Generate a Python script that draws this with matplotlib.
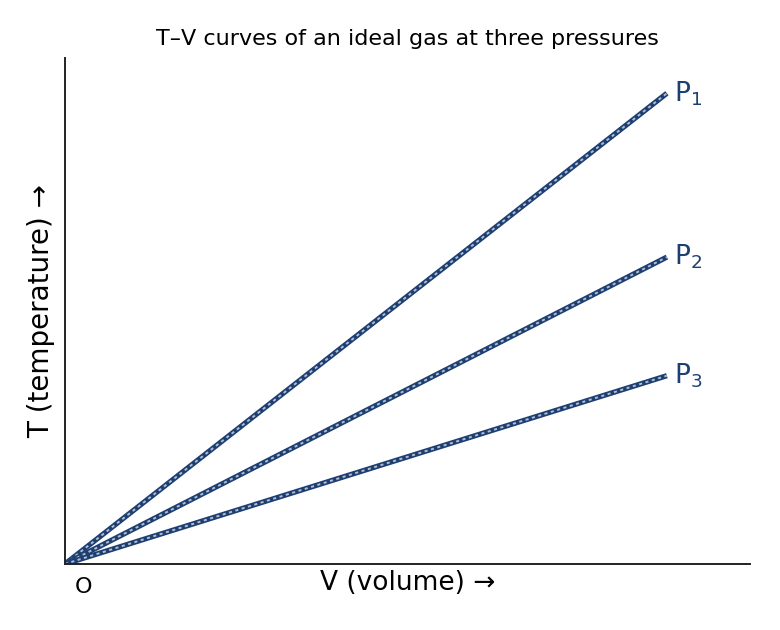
import matplotlib
matplotlib.use("Agg")
import matplotlib.pyplot as plt
import numpy as np

# data: isobars T = k V, end points at V = 1
labels = ["P$_1$", "P$_2$", "P$_3$"]
v_end = [1.0, 1.0, 1.0]
t_end = [1.0, 0.652, 0.40]

DARK = "#1d3f73"
LIGHT = "#b3bccb"

fig = plt.figure(figsize=(7.8, 6.3), dpi=100)
ax = fig.add_axes([0.0833, 0.1048, 0.8782, 0.8032])

for lab, v, t in zip(labels, v_end, t_end):
    xs = np.array([0.0, v])
    ys = np.array([0.0, t])
    ax.plot(xs, ys, color=DARK, lw=3.8, solid_capstyle="butt")
    ax.plot(xs, ys, color=LIGHT, lw=1.4, ls=(0, (1.6, 1.8)))
    ax.text(v + 0.012, t, lab, color=DARK, fontsize=19, va="center", ha="left")

ax.set_xlim(0, 1.138)
ax.set_ylim(0, 1.075)
ax.set_xticks([])
ax.set_yticks([])
for s in ["top", "right"]:
    ax.spines[s].set_visible(False)
for s in ["left", "bottom"]:
    ax.spines[s].set_linewidth(1.4)
    ax.spines[s].set_color("#222222")

ax.set_title("T–V curves of an ideal gas at three pressures", fontsize=16, pad=9)
ax.set_xlabel("V (volume) →", fontsize=19, labelpad=4)
ax.set_ylabel("T (temperature) →", fontsize=20, labelpad=7)
ax.text(0.03, -0.048, "O", transform=ax.transData, fontsize=16, ha="center", va="center")

fig.savefig("out.png", dpi=100)
